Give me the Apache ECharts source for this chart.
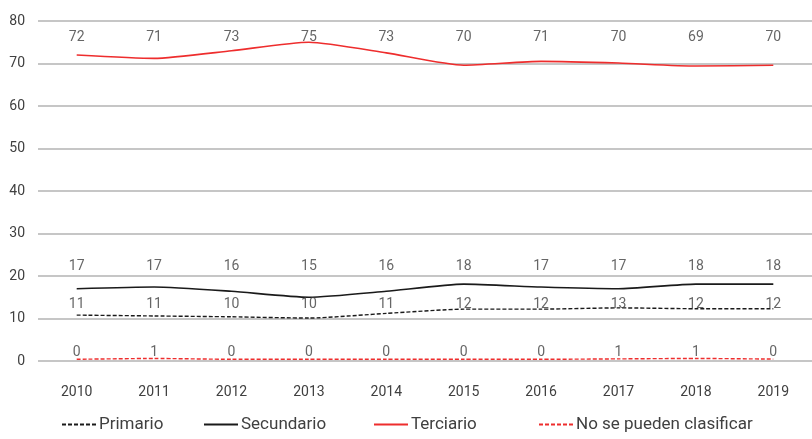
<!DOCTYPE html>
<html>
<head>
<meta charset="utf-8">
<script src="https://cdn.jsdelivr.net/npm/echarts@6/dist/echarts.min.js"></script>
<style>
  html, body { margin: 0; padding: 0; background: #fff; }
  #chart { width: 812px; height: 439px; }
</style>
</head>
<body>
<div id="chart"></div>
<script>
// datos
const years = ["2010", "2011", "2012", "2013", "2014", "2015", "2016", "2017", "2018", "2019"];
const primario = [10.8, 10.6, 10.4, 10.1, 11.2, 12.2, 12.2, 12.5, 12.3, 12.3];
const secundario = [17.0, 17.4, 16.4, 15.0, 16.4, 18.1, 17.4, 17.0, 18.1, 18.1];
const terciario = [72.0, 71.2, 73.0, 75.0, 72.5, 69.6, 70.5, 70.1, 69.4, 69.6];
const noClasif = [0.4, 0.6, 0.4, 0.4, 0.4, 0.4, 0.4, 0.5, 0.6, 0.45];
const seriesNames = ["Primario", "Secundario", "Terciario", "No se pueden clasificar"];
const yTicks = [0, 10, 20, 30, 40, 50, 60, 70, 80];

const FONT = "Roboto, 'Liberation Sans Narrow', sans-serif";
const RED = "#ee2d2d";
const BLACK = "#1a1a1a";

// filas donde van las etiquetas (valor en el eje y)
const labelRows = { terciario: 76.2, secundario: 22.2, primario: 13.4, noClasif: 2.0 };
// posicion horizontal de cada entrada de la leyenda
const legendLeft = [56, 198, 368, 533];

function labelSeries(vals, row) {
  return {
    type: "scatter",
    symbolSize: 0,
    silent: true,
    data: vals.map(function (v, i) { return [years[i], row, v]; }),
    label: {
      show: true,
      position: "inside",
      fontFamily: FONT,
      fontSize: 14,
      color: "#404040",
      formatter: function (p) { return Math.round(p.value[2]); }
    },
    z: 5
  };
}

const chart = echarts.init(document.getElementById("chart"));
chart.setOption({
  animation: false,
  grid: { left: 38, top: 21, width: 784, height: 340, containLabel: false },
  xAxis: {
    type: "category",
    data: years,
    boundaryGap: true,
    axisTick: { show: false },
    axisLine: { show: false },
    axisLabel: { margin: 24, fontFamily: FONT, fontSize: 14, color: "#404040" }
  },
  yAxis: {
    type: "value",
    min: 0,
    max: 80,
    interval: 10,
    axisLine: { show: false },
    axisTick: { show: false },
    splitLine: { lineStyle: { color: "#b3b3b3", width: 1.5 } },
    axisLabel: {
      margin: 13,
      fontFamily: FONT,
      fontSize: 14,
      color: "#404040",
      formatter: function (v) { return yTicks.indexOf(v) >= 0 ? v : ""; }
    }
  },
  legend: seriesNames.map(function (name, i) {
    return {
      bottom: 1,
      left: legendLeft[i],
      itemWidth: 34,
      itemHeight: 10,
      itemStyle: { opacity: 0 },
      data: [name],
      textStyle: { fontFamily: FONT, fontSize: 17, color: "#404040", padding: [0, 0, 0, -2] }
    };
  }),
  series: [
    {
      name: seriesNames[0], type: "line", data: primario, smooth: 0.2, symbol: "none",
      lineStyle: { color: BLACK, width: 1.4, type: [4, 2] }, itemStyle: { color: BLACK }
    },
    {
      name: seriesNames[1], type: "line", data: secundario, smooth: 0.2, symbol: "none",
      lineStyle: { color: BLACK, width: 1.6 }, itemStyle: { color: BLACK }
    },
    {
      name: seriesNames[2], type: "line", data: terciario, smooth: 0.2, symbol: "none",
      lineStyle: { color: RED, width: 1.6 }, itemStyle: { color: RED }
    },
    {
      name: seriesNames[3], type: "line", data: noClasif, smooth: 0.2, symbol: "none",
      lineStyle: { color: RED, width: 1.4, type: [4, 2] }, itemStyle: { color: RED }
    },
    labelSeries(terciario, labelRows.terciario),
    labelSeries(secundario, labelRows.secundario),
    labelSeries(primario, labelRows.primario),
    labelSeries(noClasif, labelRows.noClasif)
  ]
});
</script>
</body>
</html>
